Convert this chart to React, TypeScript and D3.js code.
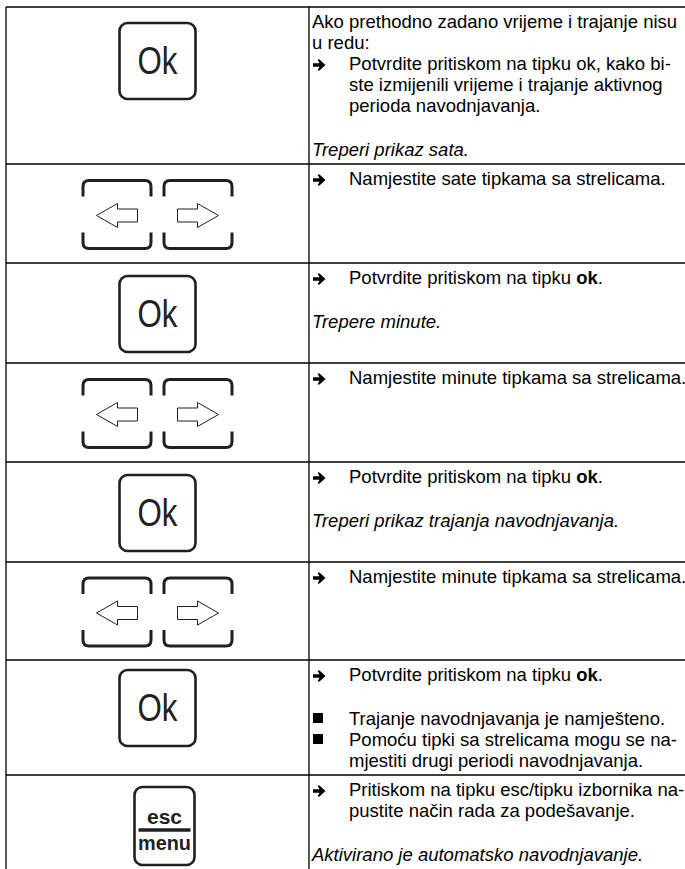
import React from 'react';
import * as d3 from 'd3';

type Part = { t: string; b?: boolean };
type Line = { kind: 'plain' | 'arrow' | 'bullet' | 'cont' | 'italic' | 'gap'; parts?: Part[] };

// key drawn in the left cell of each row
const rowIcons = ['ok', 'arrows', 'ok', 'arrows', 'ok', 'arrows', 'ok', 'escmenu'];

// text of the right cell, one list per row
const rowTexts: Line[][] = [
  [
    { kind: 'plain', parts: [{ t: 'Ako prethodno zadano vrijeme i trajanje nisu' }] },
    { kind: 'plain', parts: [{ t: 'u redu:' }] },
    { kind: 'arrow', parts: [{ t: 'Potvrdite pritiskom na tipku ok, kako bi-' }] },
    { kind: 'cont', parts: [{ t: 'ste izmijenili vrijeme i trajanje aktivnog' }] },
    { kind: 'cont', parts: [{ t: 'perioda navodnjavanja.' }] },
    { kind: 'gap' },
    { kind: 'italic', parts: [{ t: 'Treperi prikaz sata.' }] }
  ],
  [
    { kind: 'arrow', parts: [{ t: 'Namjestite sate tipkama sa strelicama.' }] }
  ],
  [
    { kind: 'arrow', parts: [{ t: 'Potvrdite pritiskom na tipku ' }, { t: 'ok', b: true }, { t: '.' }] },
    { kind: 'gap' },
    { kind: 'italic', parts: [{ t: 'Trepere minute.' }] }
  ],
  [
    { kind: 'arrow', parts: [{ t: 'Namjestite minute tipkama sa strelicama.' }] }
  ],
  [
    { kind: 'arrow', parts: [{ t: 'Potvrdite pritiskom na tipku ' }, { t: 'ok', b: true }, { t: '.' }] },
    { kind: 'gap' },
    { kind: 'italic', parts: [{ t: 'Treperi prikaz trajanja navodnjavanja.' }] }
  ],
  [
    { kind: 'arrow', parts: [{ t: 'Namjestite minute tipkama sa strelicama.' }] }
  ],
  [
    { kind: 'arrow', parts: [{ t: 'Potvrdite pritiskom na tipku ' }, { t: 'ok', b: true }, { t: '.' }] },
    { kind: 'gap' },
    { kind: 'bullet', parts: [{ t: 'Trajanje navodnjavanja je namješteno.' }] },
    { kind: 'bullet', parts: [{ t: 'Pomoću tipki sa strelicama mogu se na-' }] },
    { kind: 'cont', parts: [{ t: 'mjestiti drugi periodi navodnjavanja.' }] }
  ],
  [
    { kind: 'arrow', parts: [{ t: 'Pritiskom na tipku esc/tipku izbornika na-' }] },
    { kind: 'cont', parts: [{ t: 'pustite način rada za podešavanje.' }] },
    { kind: 'gap' },
    { kind: 'italic', parts: [{ t: 'Aktivirano je automatsko navodnjavanje.' }] }
  ]
];

// layout
const W = 685;
const H = 869;
const rowHeights = [157, 99, 100, 99, 100, 98, 115, 100];
// gap between row top and key top; null = centred in the cell
const keyTopGap: (number | null)[] = [16, null, null, null, null, null, 10, 12];
const top = 7;
const left = 6;
const divider = 309;
const right = 687;
const textX = 312;
const indentX = 349;
const lineH = 21;
const gapH = 23;
const font = '"Liberation Sans", Arial, sans-serif';
const ink = '#231f20';

const edges = [top, ...Array.from(d3.cumsum(rowHeights), v => v + top)];
const colCenter = (left + divider) / 2;

const OkKey = ({ y0 }: { y0: number }) => {
  const s = 76;
  return (
    <g>
      <rect x={colCenter - s / 2} y={y0} width={s} height={s} rx={8}
        fill="#fff" stroke={ink} strokeWidth={2.6} />
      <text x={colCenter} y={y0 + s / 2 + 12.5} textAnchor="middle" fontFamily={font}
        fontSize={38} textLength={40} lengthAdjust="spacingAndGlyphs" fill={ink}>Ok</text>
    </g>
  );
};

const bracketPath = (x0: number, y0: number, w: number, h: number) => {
  const r = 6;
  const leg = 16;
  const p = d3.path();
  p.moveTo(x0, y0 + leg);
  p.lineTo(x0, y0 + r);
  p.quadraticCurveTo(x0, y0, x0 + r, y0);
  p.lineTo(x0 + w - r, y0);
  p.quadraticCurveTo(x0 + w, y0, x0 + w, y0 + r);
  p.lineTo(x0 + w, y0 + leg);
  p.moveTo(x0, y0 + h - leg);
  p.lineTo(x0, y0 + h - r);
  p.quadraticCurveTo(x0, y0 + h, x0 + r, y0 + h);
  p.lineTo(x0 + w - r, y0 + h);
  p.quadraticCurveTo(x0 + w, y0 + h, x0 + w, y0 + h - r);
  p.lineTo(x0 + w, y0 + h - leg);
  return p.toString();
};

const arrowShape = (cx: number, cy: number, dir: number) => {
  const pts: [number, number][] = [
    [-20.5, 0], [0.5, -12], [0.5, -6.5], [20.5, -6.5],
    [20.5, 6.5], [0.5, 6.5], [0.5, 12]
  ];
  return d3.line()(pts.map(([x, y]) => [cx + dir * x, cy + y])) + 'Z';
};

const ArrowKeys = ({ y0 }: { y0: number }) => {
  const s = 68;
  const gap = 13;
  const lx = colCenter - gap / 2 - s;
  const rx = colCenter + gap / 2;
  const cy = y0 + s / 2;
  return (
    <g>
      <path d={bracketPath(lx, y0, s, s)} fill="none" stroke={ink} strokeWidth={3} />
      <path d={bracketPath(rx, y0, s, s)} fill="none" stroke={ink} strokeWidth={3} />
      <path d={arrowShape(lx + s / 2, cy + 1, 1)} fill="#fff" stroke={ink} strokeWidth={1} />
      <path d={arrowShape(rx + s / 2, cy + 1, -1)} fill="#fff" stroke={ink} strokeWidth={1} />
    </g>
  );
};

const EscKey = ({ y0 }: { y0: number }) => {
  const w = 60;
  const h = 78;
  const cx = colCenter + 7;
  const x0 = cx - w / 2;
  return (
    <g>
      <rect x={x0} y={y0} width={w} height={h} rx={8} fill="#fff" stroke={ink} strokeWidth={2.6} />
      <text x={cx} y={y0 + 37} textAnchor="middle" fontFamily={font} fontWeight="bold"
        fontSize={21} fill={ink}>esc</text>
      <line x1={x0 + 4} x2={x0 + w - 4} y1={y0 + 43} y2={y0 + 43} stroke={ink} strokeWidth={3.5} />
      <text x={cx} y={y0 + 63} textAnchor="middle" fontFamily={font} fontWeight="bold"
        fontSize={21} textLength={53} lengthAdjust="spacingAndGlyphs" fill={ink}>menu</text>
    </g>
  );
};

// heavy right arrow used as list marker
const ArrowMark = ({ x, y }: { x: number; y: number }) => {
  const cy = y - 5;
  const pts: [number, number][] = [
    [x, cy - 1.8], [x + 6.5, cy - 1.8], [x + 4.5, cy - 5.5], [x + 6.5, cy - 5.5],
    [x + 12.5, cy], [x + 6.5, cy + 5.5], [x + 4.5, cy + 5.5], [x + 6.5, cy + 1.8], [x, cy + 1.8]
  ];
  return <path d={d3.line()(pts) + 'Z'} fill="#000" />;
};

const RowText = ({ lines, y0 }: { lines: Line[]; y0: number }) => {
  let y = y0 + lineH;
  let first = true;
  const out: React.ReactNode[] = [];
  lines.forEach((ln, i) => {
    if (ln.kind === 'gap') {
      y += gapH;
      return;
    }
    if (!first) y += lineH;
    first = false;
    const x = ln.kind === 'plain' || ln.kind === 'italic' ? textX : indentX;
    if (ln.kind === 'arrow') out.push(<ArrowMark key={'a' + i} x={textX + 1} y={y} />);
    if (ln.kind === 'bullet') {
      out.push(<rect key={'b' + i} x={textX + 1} y={y - 12} width={10} height={10} fill="#000" />);
    }
    out.push(
      <text key={'t' + i} x={x} y={y} fontFamily={font} fontSize={18.5}
        fontStyle={ln.kind === 'italic' ? 'italic' : 'normal'} fill="#000">
        {(ln.parts || []).map((p, j) => (
          <tspan key={j} fontWeight={p.b ? 'bold' : 'normal'}>{p.t}</tspan>
        ))}
      </text>
    );
  });
  return <g>{out}</g>;
};

export default function App() {
  return (
    <svg width={W} height={H} style={{ position: 'absolute', left: 0, top: 0, background: '#fff' }}>
      <rect x={0} y={0} width={W} height={H} fill="#fff" />
      {rowIcons.map((icon, i) => {
        const size = icon === 'ok' ? 76 : icon === 'arrows' ? 68 : 78;
        const gap = keyTopGap[i];
        const y0 = gap === null
          ? (edges[i] + edges[i + 1]) / 2 + 1 - size / 2
          : edges[i] + gap;
        if (icon === 'ok') return <OkKey key={i} y0={y0} />;
        if (icon === 'arrows') return <ArrowKeys key={i} y0={y0} />;
        return <EscKey key={i} y0={y0} />;
      })}
      {rowTexts.map((lines, i) => (
        <RowText key={i} lines={lines} y0={edges[i]} />
      ))}
      {/* grid */}
      <g stroke="#000" strokeWidth={1.3}>
        {edges.slice(0, -1).map((y, i) => (
          <line key={i} x1={left} x2={right} y1={y} y2={y} />
        ))}
        <line x1={left} x2={left} y1={top} y2={edges[edges.length - 1]} />
        <line x1={divider} x2={divider} y1={top} y2={edges[edges.length - 1]} />
        <line x1={right} x2={right} y1={top} y2={edges[edges.length - 1]} />
      </g>
    </svg>
  );
}
